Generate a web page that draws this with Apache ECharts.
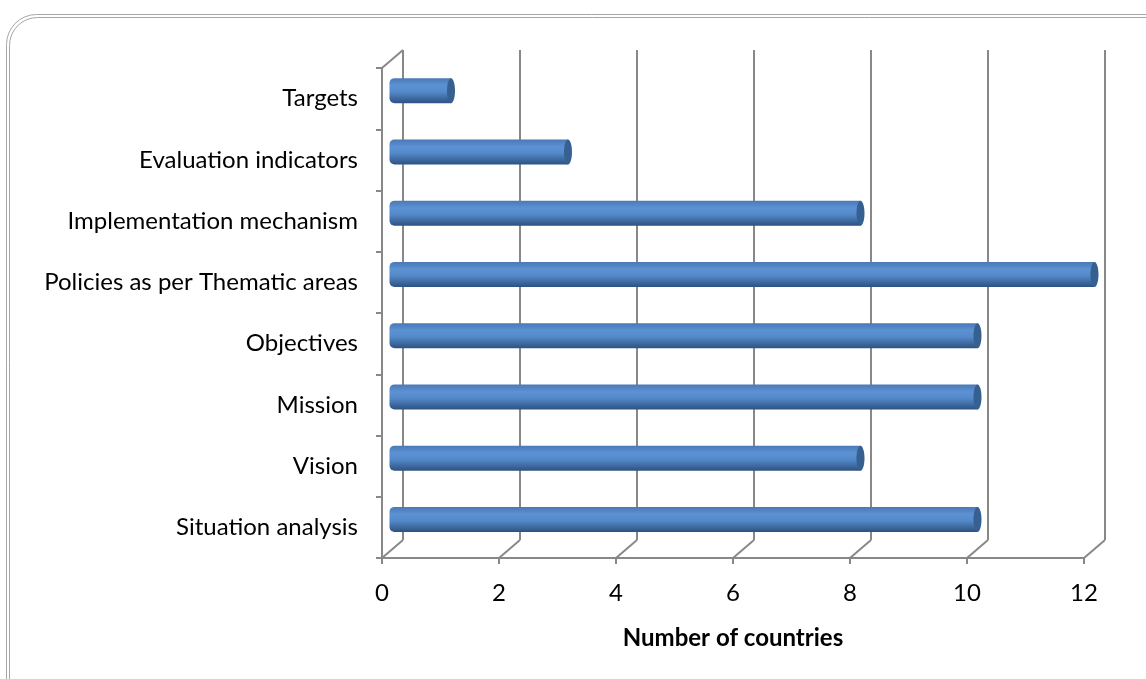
<!DOCTYPE html>
<html>
<head>
<meta charset="utf-8">
<script src="https://cdn.jsdelivr.net/npm/echarts@6/dist/echarts.min.js"></script>
<style>
  html, body { margin: 0; padding: 0; background: #fff; }
  #main { width: 1146px; height: 679px; }
</style>
</head>
<body>
<div id="main"></div>
<script>
// categories, bottom to top
var categories = [
  "Situation analysis",
  "Vision",
  "Mission",
  "Objectives",
  "Policies as per Thematic areas",
  "Implementation mechanism",
  "Evaluation indicators",
  "Targets"
];
var countries = [10, 8, 10, 10, 12, 8, 3, 1];
var xTicks = [0, 2, 4, 6, 8, 10, 12];

var lineColor = "#888888";
var depthX = 21, depthY = -18; // 3D wall offset

var myChart = echarts.init(document.getElementById("main"));

var option = {
  animation: false,
  backgroundColor: "#fff",
  textStyle: { fontFamily: "Lato" },
  // rounded double border of the chart area
  graphic: [
    { type: "rect", shape: { x: 6.5, y: 14.5, width: 1170, height: 700, r: 30 },
      style: { fill: "none", stroke: "#A6A6A6", lineWidth: 1 } },
    { type: "rect", shape: { x: 9.5, y: 17.5, width: 1170, height: 700, r: 28 },
      style: { fill: "none", stroke: "#A6A6A6", lineWidth: 1 } }
  ],
  grid: [
    // front plane (axes)
    { left: 382, right: 62, top: 68, bottom: 121 },
    // mid depth (cylinders)
    { left: 392.5, right: 51.5, top: 60, bottom: 129 }
  ],
  xAxis: [
    {
      gridIndex: 0, type: "value", min: 0, max: 12, interval: 2,
      axisLine: { show: true, lineStyle: { color: lineColor, width: 2 } },
      axisTick: { show: true, length: 6, lineStyle: { color: lineColor, width: 2 } },
      axisLabel: { fontSize: 24, color: "#000", margin: 23, fontFamily: "Lato" },
      splitLine: { show: false },
      name: "Number of countries",
      nameLocation: "middle",
      nameGap: 68,
      nameTextStyle: { fontSize: 24, fontWeight: "bold", color: "#000", fontFamily: "Lato" }
    },
    {
      gridIndex: 1, type: "value", min: 0, max: 12, interval: 2, show: false
    }
  ],
  yAxis: [
    {
      gridIndex: 0, type: "category", data: categories, boundaryGap: true,
      axisLine: { show: true, lineStyle: { color: lineColor, width: 2 } },
      axisTick: { show: true, length: 6, lineStyle: { color: lineColor, width: 2 } },
      axisLabel: { fontSize: 24, color: "#000", margin: 24, fontFamily: "Lato" },
      splitLine: { show: false }
    },
    {
      gridIndex: 1, type: "category", data: categories, show: false
    }
  ],
  series: [
    {
      // back wall gridlines and the diagonals joining them to the front axes
      type: "custom",
      xAxisIndex: 0, yAxisIndex: 0,
      silent: true,
      data: xTicks.map(function (t) { return [t, 0]; }),
      renderItem: function (params, api) {
        var cs = params.coordSys;
        var x = api.coord([api.value(0), 0])[0];
        var top = cs.y, bottom = cs.y + cs.height;
        var st = { stroke: lineColor, lineWidth: 2 };
        var children = [
          { type: "line", shape: { x1: x, y1: bottom, x2: x + depthX, y2: bottom + depthY }, style: st },
          { type: "line", shape: { x1: x + depthX, y1: bottom + depthY, x2: x + depthX, y2: top + depthY }, style: st }
        ];
        if (api.value(0) === 0) {
          children.push({ type: "line", shape: { x1: x, y1: top, x2: x + depthX, y2: top + depthY }, style: st });
        }
        return { type: "group", children: children };
      },
      z: 1
    },
    {
      // cylinders
      type: "custom",
      xAxisIndex: 1, yAxisIndex: 1,
      data: countries.map(function (v, i) { return [v, i]; }),
      encode: { x: 0, y: 1 },
      renderItem: function (params, api) {
        var start = api.coord([0, api.value(1)]);
        var end = api.coord([api.value(0), api.value(1)]);
        var h = 25;
        return {
          type: "group",
          children: [
            {
              type: "rect",
              shape: { x: start[0] - 3, y: start[1] - h / 2, width: end[0] - start[0] + 3, height: h, r: [5, 0, 0, 5] },
              style: {
                fill: new echarts.graphic.LinearGradient(0, 0, 0, 1, [
                  { offset: 0, color: "#4A78B5" },
                  { offset: 0.3, color: "#5C92D4" },
                  { offset: 0.55, color: "#5489C9" },
                  { offset: 1, color: "#2E5282" }
                ])
              }
            },
            {
              type: "ellipse",
              shape: { cx: end[0], cy: end[1], rx: 4, ry: h / 2 },
              style: { fill: "#36608F" }
            }
          ]
        };
      },
      z: 3
    }
  ]
};

myChart.setOption(option);
</script>
</body>
</html>
